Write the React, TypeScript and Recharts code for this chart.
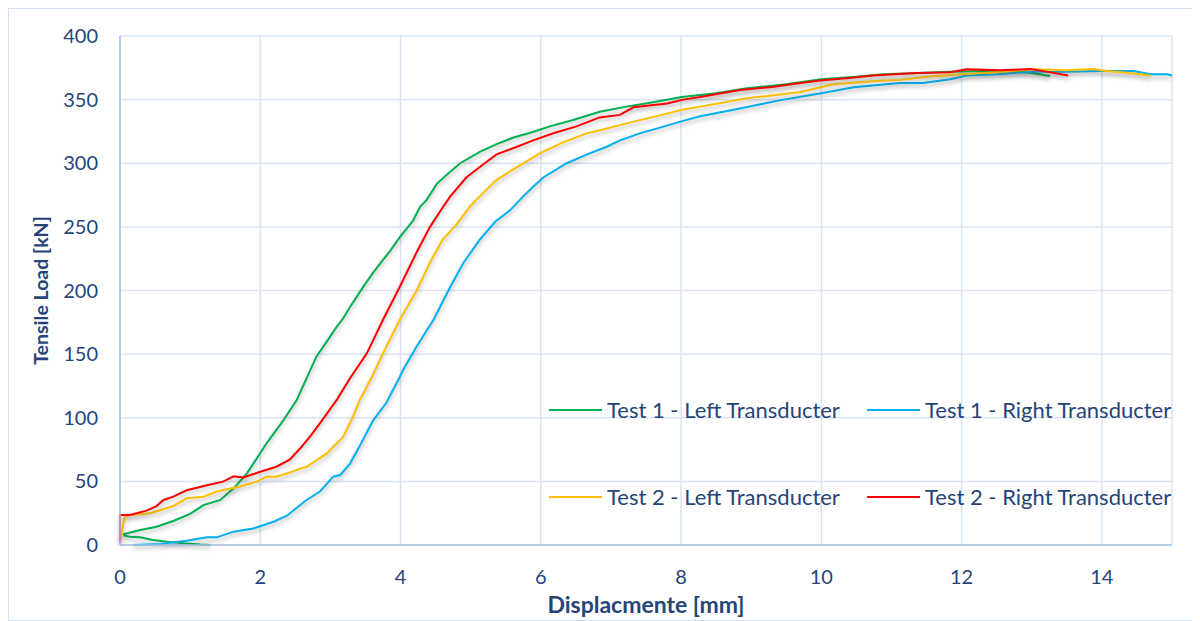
import React from 'react';
import { LineChart, Line, XAxis, YAxis, CartesianGrid, Label } from 'recharts';

// Displacement [mm] / tensile load [kN]
const test1LeftX = [1.29, 1.14, 0.9, 0.67, 0.47, 0.29, 0.14, 0.06, 0.06, 0.29, 0.52, 0.76, 1.0, 1.19, 1.43, 1.62, 1.81, 1.95, 2.09, 2.23, 2.33, 2.52, 2.66, 2.8, 2.95, 3.09, 3.18, 3.28, 3.47, 3.61, 3.75, 3.85, 3.99, 4.18, 4.28, 4.37, 4.52, 4.7, 4.85, 5.13, 5.37, 5.6, 5.85, 6.13, 6.46, 6.84, 7.22, 7.6, 8.01, 8.5, 8.94, 9.5, 10.0, 10.5, 10.88, 11.4, 11.84, 12.3, 12.8, 13.0, 13.26];
const test1LeftLoad = [0, 0.3, 1.3, 2.6, 4, 6, 6.5, 7.5, 8.6, 11.8, 14.4, 18.9, 24.4, 31.4, 35.4, 44.5, 56.3, 68, 79.9, 90.4, 98, 114, 131, 148, 160, 171.5, 178, 187, 203, 214, 224, 231, 242, 255, 266, 271, 284, 293, 300, 309, 315, 320, 324, 329, 334, 340.5, 344.5, 348, 352, 355, 359, 362, 366, 368, 370, 371, 372, 372.5, 372, 371, 368.5];

const test1RightX = [0.19, 0.57, 0.95, 1.24, 1.38, 1.62, 1.9, 2.19, 2.38, 2.57, 2.66, 2.85, 3.04, 3.14, 3.28, 3.42, 3.61, 3.8, 3.99, 4.04, 4.23, 4.47, 4.71, 4.9, 5.13, 5.35, 5.56, 5.75, 5.89, 6.04, 6.37, 6.66, 6.94, 7.13, 7.41, 7.7, 7.99, 8.27, 8.75, 9.1, 9.46, 10.0, 10.46, 11.12, 11.45, 11.84, 12.07, 12.5, 13.02, 13.5, 13.97, 14.45, 14.69, 14.93, 15.0];
const test1RightLoad = [0, 0.8, 3.4, 6, 6, 10.5, 13, 18.3, 23, 31.4, 35.4, 42, 53.7, 55, 64, 78, 98, 112, 132, 138, 156, 177, 203, 222, 240, 254, 263, 274, 281.6, 289, 300, 307, 313, 318, 323.5, 328, 332.7, 337, 342, 346, 350, 355, 359.7, 363, 363, 366, 369, 370, 372, 372, 372.5, 372.5, 370, 370, 369];

const test2LeftX = [0.01, 0.04, 0.07, 0.14, 0.43, 0.76, 0.95, 1.19, 1.38, 1.71, 1.95, 2.09, 2.23, 2.42, 2.57, 2.66, 2.95, 3.18, 3.3, 3.42, 3.6, 3.75, 3.99, 4.04, 4.23, 4.42, 4.6, 4.8, 4.99, 5.13, 5.37, 5.66, 5.99, 6.3, 6.65, 6.84, 7.32, 7.8, 8.01, 8.27, 8.94, 9.7, 10.17, 10.88, 11.12, 11.5, 12.0, 12.5, 13.02, 13.5, 13.88, 14.07, 14.4, 14.69];
const test2LeftLoad = [4, 15, 22, 23.6, 25, 30.6, 36.7, 38, 42, 46, 49.8, 53.7, 53.7, 57, 60, 61.5, 72, 85, 98, 114, 133, 150.6, 177, 182, 200, 222, 240, 252, 266, 274, 287, 297, 308, 316, 323.5, 326, 332.7, 339, 342, 344.5, 351, 356, 362, 365, 365.5, 368, 370, 371.5, 373.8, 373, 374, 372.5, 371, 369];

const test2RightX = [0, 0, 0.14, 0.38, 0.52, 0.62, 0.76, 0.95, 1.24, 1.47, 1.62, 1.76, 2.0, 2.23, 2.42, 2.57, 2.72, 2.85, 3.09, 3.28, 3.52, 3.75, 3.99, 4.23, 4.42, 4.61, 4.71, 4.94, 5.2, 5.37, 5.66, 5.89, 6.2, 6.51, 6.84, 7.13, 7.32, 7.8, 8.03, 8.27, 8.84, 9.3, 9.7, 9.98, 10.4, 10.74, 11.36, 11.84, 12.07, 12.55, 12.98, 13.21, 13.52];
const test2RightLoad = [1.5, 23.6, 23.6, 27, 30.6, 35.4, 38, 43, 47, 49.8, 54, 53, 57.6, 61.5, 67, 76, 86, 95.6, 114, 131, 150.6, 177, 203, 230, 250, 266, 274, 289, 300, 307, 313, 318, 324, 329, 336, 338, 344, 347, 350, 352, 357.5, 360, 363, 365, 367, 369, 371, 371.5, 373.8, 373, 374, 372, 369];

const xTicks = [0, 2, 4, 6, 8, 10, 12, 14];
const yTicks = [0, 50, 100, 150, 200, 250, 300, 350, 400];

const TEXT = '#264478';
const GRID = '#d9e3f2';
const AXIS = '#a9c1e3';

const zip = (xs: number[], ys: number[]) => xs.map((x, i) => ({ x, y: ys[i] }));

const series = [
  { name: 'Test 1 - Left Transducter', color: '#00b050', data: zip(test1LeftX, test1LeftLoad) },
  { name: 'Test 1 - Right Transducter', color: '#00b0f0', data: zip(test1RightX, test1RightLoad) },
  { name: 'Test 2 - Left Transducter', color: '#ffc000', data: zip(test2LeftX, test2LeftLoad) },
  { name: 'Test 2 - Right Transducter', color: '#ff0000', data: zip(test2RightX, test2RightLoad) },
];

// legend cells, 2x2 inside the plot
const legendPos = [
  { left: 540, top: 387 },
  { left: 858, top: 387 },
  { left: 540, top: 474 },
  { left: 858, top: 474 },
];

export default function App() {
  return (
    <div
      style={{
        position: 'relative',
        width: 1192,
        height: 613,
        border: `1px solid #d3def0`,
        boxSizing: 'border-box',
        fontFamily: 'Lato, sans-serif',
      }}
    >
      <style>{`.recharts-line path { filter: drop-shadow(0px 3px 2px rgba(70,70,70,0.4)); }`}</style>
      <LineChart width={1190} height={611} margin={{ top: 27, right: 27, left: 0, bottom: 0 }}>
        <CartesianGrid stroke={GRID} strokeWidth={1.5} />
        <XAxis
          type="number"
          dataKey="x"
          domain={[0, 15]}
          ticks={xTicks}
          height={75}
          stroke={AXIS}
          strokeWidth={1.5}
          tickLine={false}
          tickMargin={19}
          tick={{ fill: TEXT, fontSize: 20, fontFamily: 'Lato' }}
        >
          <Label
            value="Displacmente [mm]"
            position="insideBottom"
            offset={7}
            style={{ fill: TEXT, fontSize: 23, fontWeight: 'bold', fontFamily: 'Lato' }}
          />
        </XAxis>
        <YAxis
          type="number"
          domain={[0, 400]}
          ticks={yTicks}
          width={111}
          stroke={AXIS}
          strokeWidth={1.5}
          tickLine={false}
          tickMargin={16}
          tick={{ fill: TEXT, fontSize: 20, fontFamily: 'Lato' }}
        >
          <Label
            value="Tensile Load [kN]"
            angle={-90}
            position="insideLeft"
            offset={32}
            style={{ fill: TEXT, fontSize: 19.5, fontWeight: 'bold', fontFamily: 'Lato', textAnchor: 'middle' }}
          />
        </YAxis>
        {series.map((s) => (
          <Line
            key={s.name}
            data={s.data}
            dataKey="y"
            name={s.name}
            type="linear"
            stroke={s.color}
            strokeWidth={2}
            dot={false}
            activeDot={false}
            isAnimationActive={false}
          />
        ))}
      </LineChart>

      {/* Legend */}
      {series.map((s, i) => (
        <div
          key={s.name}
          style={{
            position: 'absolute',
            left: legendPos[i].left,
            top: legendPos[i].top,
            display: 'flex',
            alignItems: 'center',
            gap: 5,
          }}
        >
          <div style={{ width: 53, height: 2, background: s.color }} />
          <span style={{ fontSize: 22, color: TEXT, whiteSpace: 'nowrap' }}>{s.name}</span>
        </div>
      ))}
    </div>
  );
}
